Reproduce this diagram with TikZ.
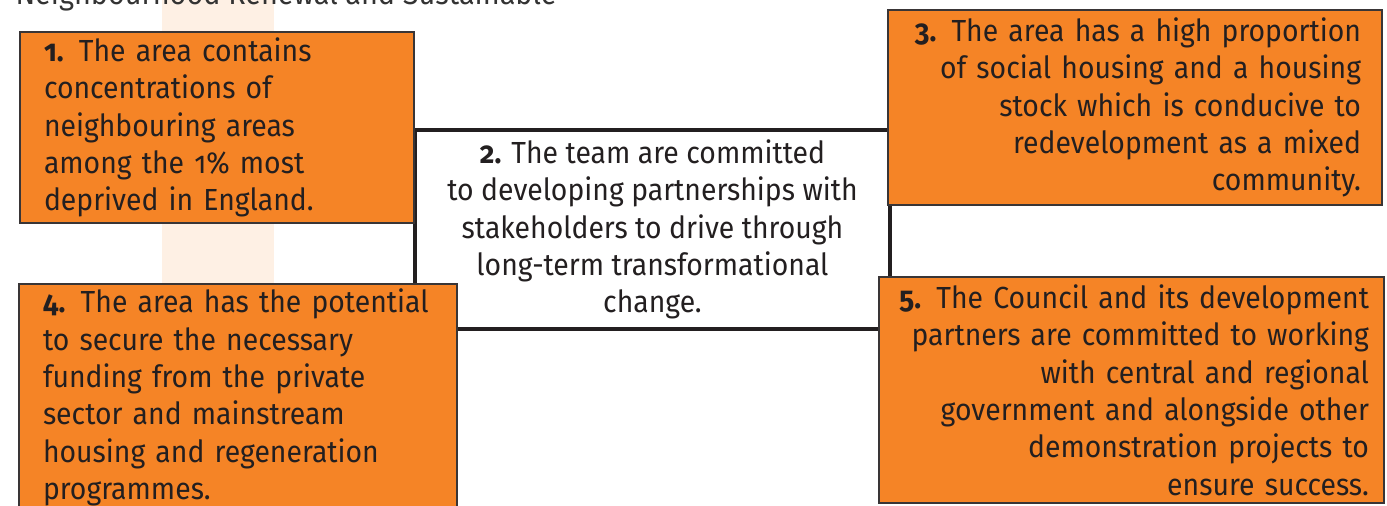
\documentclass[tikz,border=0pt]{standalone}
\usepackage{fontspec}
\setmainfont{Fira Sans}[Numbers=OldStyle,FakeStretch=0.93]
\usepackage{tikz}
\definecolor{boxorange}{HTML}{F58426}
\definecolor{barpeach}{HTML}{FEF0E4}
\definecolor{inkgrey}{HTML}{231F20}
\hyphenpenalty=10000

\begin{document}
\begin{tikzpicture}[x=1pt,y=-1pt,
  every node/.style={font=\fontsize{30.5}{37.4}\selectfont, text=inkgrey},
  criterion/.style={draw=inkgrey!90, line width=2pt, fill=boxorange, anchor=north west, inner xsep=24pt, inner ysep=0pt},
  hub/.style={draw=inkgrey, line width=4.5pt, fill=white, minimum width=475pt, minimum height=199pt, align=center}]
\useasboundingbox (0,0) rectangle (1387,506);
\begin{scope}
\clip (0,0) rectangle (1387,506);
%\draw[pink, fill] (0,0) rectangle +(3,3);
\fill[barpeach] (162,0) rectangle (274,506);
\node[anchor=base west, text=black!80, font=\fontsize{31}{37}\selectfont] (title) at (12,5) {Neighbourhood Renewal and Sustainable};
\node[hub] (team) at (652.5,229.5) {\textbf{2.} The team are committed\\ to developing partnerships with\\ stakeholders to drive through\\ long-term transformational\\ change.};
\node[criterion, text width=346pt, align=left, minimum height=191pt] (deprived) at (19,31)
  {\textbf{1.} The area contains\\ concentrations of\\ neighbouring areas\\ among the 1\% most\\ deprived in England.};
\node[criterion, text width=452pt, inner xsep=21pt, align=right, minimum height=195pt] (housing) at (887,9)
  {\textbf{3.} The area has a high proportion\\ of social housing and a housing\\ stock which is conducive to\\ redevelopment as a mixed\\ community.};
\node[criterion, text width=390pt, align=left, minimum height=227pt] (funding) at (18,283)
  {\textbf{4.} The area has the potential\\ to secure the necessary\\ funding from the private\\ sector and mainstream\\ housing and regeneration\\ programmes.};
\node[criterion, text width=475pt, inner xsep=15pt, align=right, minimum height=226pt] (council) at (878,276)
  {\textbf{5.} The Council and its development\\ partners are committed to working\\ with central and regional\\ government and alongside other\\ demonstration projects to\\ ensure success.};
\end{scope}
\end{tikzpicture}
\end{document}
